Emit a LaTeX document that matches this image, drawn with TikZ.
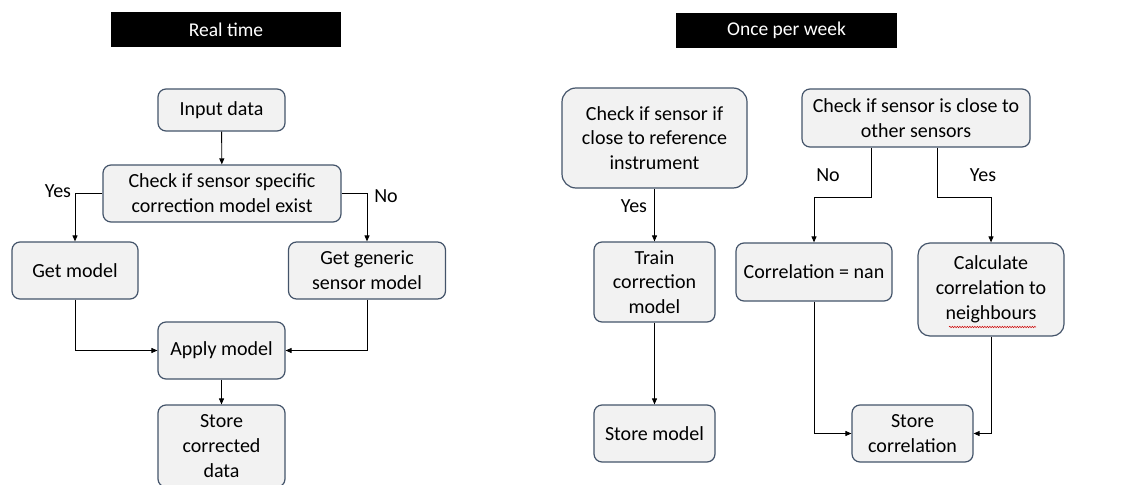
\documentclass[tikz,border=0pt]{standalone}
\usepackage{fontspec}
\setmainfont{Carlito}
\usetikzlibrary{arrows.meta,decorations.pathmorphing}
\definecolor{boxfill}{HTML}{F2F2F2}
\definecolor{boxline}{HTML}{44546A}
\tikzset{
  box/.style={draw=boxline, line width=1.2pt, fill=boxfill, rounded corners=8pt,
    align=center, inner sep=1pt, font=\fontsize{20}{24.8}\selectfont},
  hdr/.style={fill=black, text=white, inner sep=0pt, font=\fontsize{19.5}{22}\selectfont},
  arr/.style={draw=black, line width=0.9pt, -{Triangle[length=6pt,width=5pt]}},
  lbl/.style={font=\fontsize{20}{22}\selectfont, inner sep=0pt}
}
\begin{document}
\begin{tikzpicture}[x=1pt,y=-1pt]
\useasboundingbox (0,0) rectangle (1123,484);
% headers
\node[hdr, minimum width=230pt, minimum height=35pt] (hl) at (226,29.5) {Real time};
\node[hdr, minimum width=221pt, minimum height=35pt] (hr) at (786.5,30.5) {Once per week};
% left flow
\node[box, minimum width=127pt, minimum height=42pt] (in) at (221.5,110) {Input data};
\node[box, minimum width=238pt, minimum height=57pt] (chk) at (222,193.5) {Check if sensor specific\\correction model exist};
\node[box, minimum width=126pt, minimum height=57pt] (gm) at (75,270.5) {Get model};
\node[box, minimum width=157pt, minimum height=57pt] (gg) at (367,270.5) {Get generic\\sensor model};
\node[box, minimum width=127pt, minimum height=57pt] (ap) at (221.5,350.5) {Apply model};
\node[box, minimum width=127pt, minimum height=82pt] (sc) at (221.5,446) {Store\\corrected\\data};
\draw[arr] (in) -- (chk);
\draw[arr] (chk.west) -| (gm.north);
\draw[arr] (chk.east) -| (gg.north);
\draw[arr] (gm.south) |- (ap.west);
\draw[arr] (gg.south) |- (ap.east);
\draw[arr] (ap) -- (sc);
\node[lbl] (yes1) at (58,191) {Yes};
\node[lbl] (no1) at (386,196) {No};
% right flow
\node[box, minimum width=185pt, minimum height=100pt, rounded corners=14pt] (cr) at (654.5,138) {Check if sensor if\\close to reference\\instrument};
\node[box, minimum width=121pt, minimum height=80pt] (tr) at (654.5,282) {Train\\correction\\model};
\node[box, minimum width=121pt, minimum height=57pt] (sm) at (654.5,433.5) {Store model};
\node[box, minimum width=228pt, minimum height=58pt] (cc) at (916,118) {Check if sensor is close to\\other sensors};
\node[box, minimum width=156pt, minimum height=58pt] (nan) at (814,272) {Correlation = nan};
\node[box, minimum width=146pt, minimum height=93pt, rounded corners=12pt] (calc) at (991,289.5) {Calculate\\correlation to\\neighbours};
\node[box, minimum width=121pt, minimum height=57pt] (scor) at (912.5,433.5) {Store\\correlation};
\draw[arr] (cr) -- (tr);
\draw[arr] (tr) -- (sm);
\draw[arr] ([xshift=-45pt]cc.south) -- ++(0,50) -| (nan.north);
\draw[arr] ([xshift=21pt]cc.south) -- ++(0,50) -| (calc.north);
\draw[arr] (nan.south) |- (scor.west);
\draw[arr] (calc.south) |- (scor.east);
\node[lbl] (yes2) at (634,206) {Yes};
\node[lbl] (no2) at (828,175) {No};
\node[lbl] (yes3) at (983,175) {Yes};
\draw[red!80!black, line width=0.5pt, decorate, decoration={snake, amplitude=0.7pt, segment length=2.5pt}] (949,327) -- (1036,327);
\end{tikzpicture}
\end{document}
